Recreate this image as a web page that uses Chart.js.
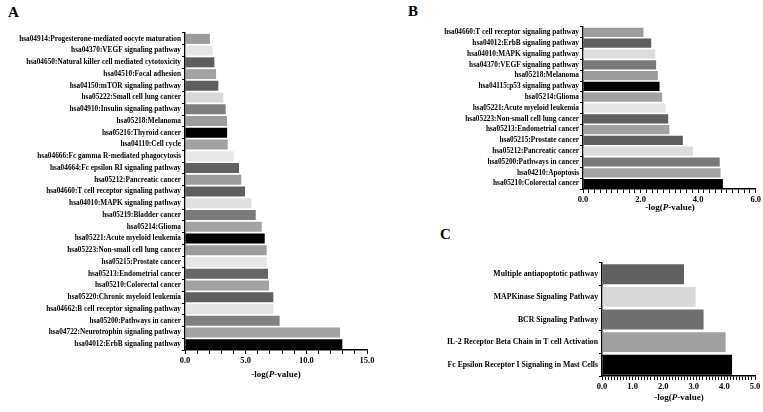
<!DOCTYPE html>
<html>
<head>
<meta charset="utf-8">
<script src="https://cdn.jsdelivr.net/npm/chart.js@4"></script>
<style>
  body { margin: 0; background: #fff; }
  #wrap { position: relative; width: 763px; height: 412px; overflow: hidden; background: #fff; }
  .panel { position: absolute; }
  .letter { position: absolute; font: bold 15px "Liberation Serif", serif; color: #000; }
  .xtitle { position: absolute; font: bold 9px "Liberation Serif", serif; color: #000; transform: translateX(-50%); white-space: nowrap; }
</style>
</head>
<body>
<div id="wrap">
  <div class="letter" style="left:8px;top:4px;">A</div>
  <div class="letter" style="left:408px;top:3px;">B</div>
  <div class="letter" style="left:440px;top:226px;">C</div>

  <canvas id="chartA" class="panel" width="382" height="395" style="left:0;top:0;"></canvas>
  <canvas id="chartB" class="panel" width="363" height="220" style="left:400px;top:0;"></canvas>
  <canvas id="chartC" class="panel" width="363" height="182" style="left:400px;top:230px;"></canvas>

  <div class="xtitle" style="left:276px;top:369px;">-log(<i>P</i>-value)</div>
  <div class="xtitle" style="left:670px;top:202px;">-log(<i>P</i>-value)</div>
  <div class="xtitle" style="left:679px;top:392px;">-log(<i>P</i>-value)</div>
</div>
<script>
// Panel A: KEGG pathways
const pathwaysA = [
    "hsa04914:Progesterone-mediated oocyte maturation",
    "hsa04370:VEGF signaling pathway",
    "hsa04650:Natural killer cell mediated cytotoxicity",
    "hsa04510:Focal adhesion",
    "hsa04150:mTOR signaling pathway",
    "hsa05222:Small cell lung cancer",
    "hsa04910:Insulin signaling pathway",
    "hsa05218:Melanoma",
    "hsa05216:Thyroid cancer",
    "hsa04110:Cell cycle",
    "hsa04666:Fc gamma R-mediated phagocytosis",
    "hsa04664:Fc epsilon RI signaling pathway",
    "hsa05212:Pancreatic cancer",
    "hsa04660:T cell receptor signaling pathway",
    "hsa04010:MAPK signaling pathway",
    "hsa05219:Bladder cancer",
    "hsa05214:Glioma",
    "hsa05221:Acute myeloid leukemia",
    "hsa05223:Non-small cell lung cancer",
    "hsa05215:Prostate cancer",
    "hsa05213:Endometrial cancer",
    "hsa05210:Colorectal cancer",
    "hsa05220:Chronic myeloid leukemia",
    "hsa04662:B cell receptor signaling pathway",
    "hsa05200:Pathways in cancer",
    "hsa04722:Neurotrophin signaling pathway",
    "hsa04012:ErbB signaling pathway"
];
const valuesA = [2.06, 2.28, 2.42, 2.56, 2.75, 3.16, 3.35, 3.46, 3.47, 3.52, 4.04, 4.45, 4.64, 4.95,
    5.47, 5.83, 6.32, 6.57, 6.73, 6.74, 6.84, 6.92, 7.28, 7.29, 7.8, 12.78, 12.97];
const colorsA = ["#9c9c9c", "#e6e6e6", "#5e5e5e", "#a2a2a2", "#5e5e5e", "#d8d8d8", "#7e7e7e", "#9c9c9c", "#000000",
    "#a2a2a2", "#e8e8e8", "#606060", "#9c9c9c", "#5e5e5e", "#e0e0e0", "#7a7a7a", "#a2a2a2", "#000000",
    "#9c9c9c", "#e6e6e6", "#666666", "#a2a2a2", "#606060", "#e4e4e4", "#808080", "#a2a2a2", "#000000"];
const ticksA = [0, 5, 10, 15];

// Panel B
const pathwaysB = [
    "hsa04660:T cell receptor signaling pathway",
    "hsa04012:ErbB signaling pathway",
    "hsa04010:MAPK signaling pathway",
    "hsa04370:VEGF signaling pathway",
    "hsa05218:Melanoma",
    "hsa04115:p53 signaling pathway",
    "hsa05214:Glioma",
    "hsa05221:Acute myeloid leukemia",
    "hsa05223:Non-small cell lung cancer",
    "hsa05213:Endometrial cancer",
    "hsa05215:Prostate cancer",
    "hsa05212:Pancreatic cancer",
    "hsa05200:Pathways in cancer",
    "hsa04210:Apoptosis",
    "hsa05210:Colorectal cancer"
];
const valuesB = [2.1, 2.37, 2.51, 2.54, 2.6, 2.66, 2.75, 2.87, 2.96, 3.0, 3.47, 3.82, 4.75, 4.78, 4.86];
const colorsB = ["#9c9c9c", "#5e5e5e", "#dcdcdc", "#7a7a7a", "#9c9c9c", "#000000", "#a2a2a2", "#e6e6e6",
    "#606060", "#a2a2a2", "#5e5e5e", "#dcdcdc", "#7a7a7a", "#a2a2a2", "#000000"];
const ticksB = [0, 2, 4, 6];

// Panel C
const pathwaysC = [
    "Multiple antiapoptotic pathway",
    "MAPKinase Signaling Pathway",
    "BCR Signaling Pathway",
    "IL-2 Receptor Beta Chain in T cell Activation",
    "Fc Epsilon Receptor I Signaling in Mast Cells"
];
const valuesC = [2.68, 3.06, 3.32, 4.04, 4.25];
const colorsC = ["#606060", "#d8d8d8", "#707070", "#a0a0a0", "#000000"];
const ticksC = [0, 1, 2, 3, 4, 5];

const serif = "'Liberation Serif', 'Times New Roman', serif";

function makePanel(id, labels, values, colors, majors, minorStep, box) {
    const major = majors[1] - majors[0];
    return new Chart(document.getElementById(id), {
        type: 'bar',
        data: {
            labels: labels,
            datasets: [{
                data: values,
                backgroundColor: colors,
                borderWidth: 0,
                barPercentage: box.bar,
                categoryPercentage: 1
            }]
        },
        options: {
            indexAxis: 'y',
            responsive: false,
            animation: false,
            layout: { padding: { top: box.top, right: box.right, left: 0, bottom: 0 } },
            plugins: { legend: { display: false }, tooltip: { enabled: false } },
            scales: {
                x: {
                    min: majors[0],
                    max: majors[majors.length - 1],
                    afterFit: s => { s.height = box.xh; },
                    border: { color: '#000', width: 1.5 },
                    grid: { drawOnChartArea: false, tickLength: 4, tickColor: '#000', tickWidth: 1 },
                    ticks: {
                        stepSize: minorStep,
                        autoSkip: false,
                        maxRotation: 0,
                        padding: 2,
                        color: '#000',
                        font: { family: serif, size: 8.5, weight: 'bold' },
                        callback: v => {
                            const r = v / major;
                            return Math.abs(r - Math.round(r)) < 1e-6 ? Number(v).toFixed(1) : '';
                        }
                    }
                },
                y: {
                    afterFit: s => { s.width = box.yw; },
                    border: { color: '#000', width: 1.5 },
                    grid: { drawOnChartArea: false, tickLength: 3, tickColor: '#000', tickWidth: 1 },
                    ticks: {
                        autoSkip: false,
                        padding: 1,
                        color: '#000',
                        font: { family: serif, size: box.fs, weight: 'bold' }
                    }
                }
            }
        }
    });
}

makePanel("chartA", pathwaysA, valuesA, colorsA, ticksA, 1,
    { top: 33, right: 15, yw: 185, xh: 45, bar: 0.85, fs: 7.3 });
makePanel("chartB", pathwaysB, valuesB, colorsB, ticksB, 0.2,
    { top: 27, right: 5, yw: 183, xh: 31, bar: 0.85, fs: 7.3 });
makePanel("chartC", pathwaysC, valuesC, colorsC, ticksC, 0.1,
    { top: 33, right: 8, yw: 202, xh: 36, bar: 0.88, fs: 7.75 });
</script>
</body>
</html>
